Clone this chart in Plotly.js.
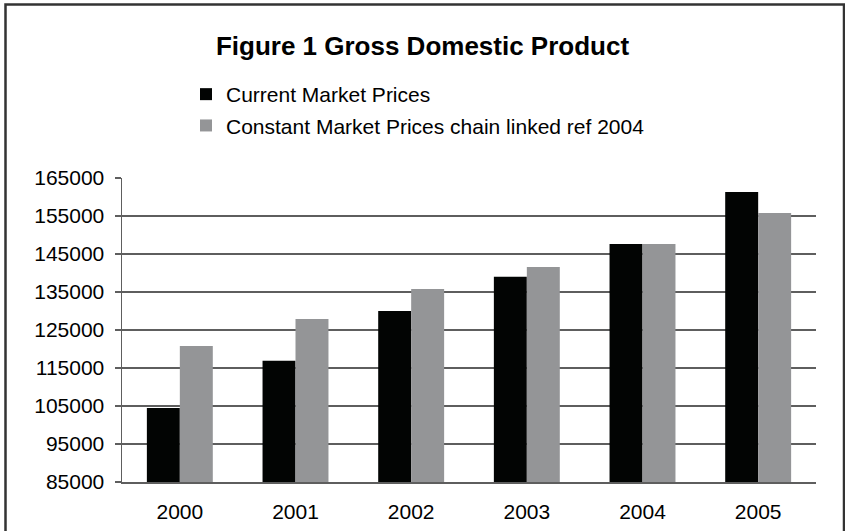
<!DOCTYPE html>
<html>
<head>
<meta charset="utf-8">
<script src="https://cdn.plot.ly/plotly-3.0.1.min.js"></script>
<style>html,body{margin:0;padding:0;background:#fff;}#chart{width:845px;height:531px;}</style>
</head>
<body>
<div id="chart"></div>
<script>
const years = ['2000', '2001', '2002', '2003', '2004', '2005'];
const currentPrices = [104500, 116900, 130000, 139000, 147600, 161300];
const constantPrices = [120800, 127900, 135800, 141600, 147600, 155800];
const seriesNames = ['Current Market Prices', 'Constant Market Prices chain linked ref 2004'];

const W = 845, H = 531;
const M = {l: 122, r: 29, t: 178, b: 49, autoexpand: false};
const pw = W - M.l - M.r, ph = H - M.t - M.b;
const px = x => (x - M.l) / pw;
const py = y => (H - M.b - y) / ph;

const font = 'Liberation Sans, Arial, sans-serif';

const data = [
  {type: 'bar', x: years, y: currentPrices, name: seriesNames[0], marker: {color: '#020403'}, legendgroup: 'a'},
  {type: 'bar', x: years, y: constantPrices, name: seriesNames[1], marker: {color: '#949597'}, legendgroup: 'b'}
];

const layout = {
  width: W, height: H,
  margin: M,
  paper_bgcolor: '#fff', plot_bgcolor: '#fff',
  font: {family: font, color: '#000', size: 21},
  title: {text: '<b>Figure 1 Gross Domestic Product</b>', font: {size: 26, family: font, color: '#000'}, x: 0.5, xref: 'container', y: 1 - 46/H, yref: 'container', yanchor: 'middle', automargin: false},
  barmode: 'group', bargap: 0.43, bargroupgap: 0,
  showlegend: true,
  legend: {xref: 'container', yref: 'container', x: 186/W, y: 1 - 74/H, xanchor: 'left', yanchor: 'top', font: {size: 21, family: font}, traceorder: 'grouped', tracegroupgap: 1, bgcolor: 'rgba(0,0,0,0)', itemwidth: 30},
  xaxis: {type: 'category', automargin: false, showgrid: false, showline: true, linecolor: '#5e5e5e', linewidth: 1.5, ticks: '', ticklabelstandoff: 10, tickfont: {size: 21}},
  yaxis: {range: [85000, 165000], automargin: false, dtick: 10000, tick0: 85000, tickformat: 'd', showgrid: true, gridcolor: '#5e5e5e', gridwidth: 1.5, showline: true, linecolor: '#5e5e5e', linewidth: 1.5, ticks: 'outside', ticklen: 6, tickcolor: '#5e5e5e', tickwidth: 1.5, ticklabelstandoff: 6, tickfont: {size: 21}, zeroline: false, fixedrange: true},
  shapes: [
    {type: 'rect', xref: 'paper', yref: 'paper', x0: px(5.5), x1: px(844), y0: py(545), y1: py(4.5), line: {color: '#333', width: 2.5}, fillcolor: 'rgba(0,0,0,0)', layer: 'above'}
  ]
};

Plotly.newPlot('chart', data, layout, {displayModeBar: false, staticPlot: true});
</script>
</body>
</html>
